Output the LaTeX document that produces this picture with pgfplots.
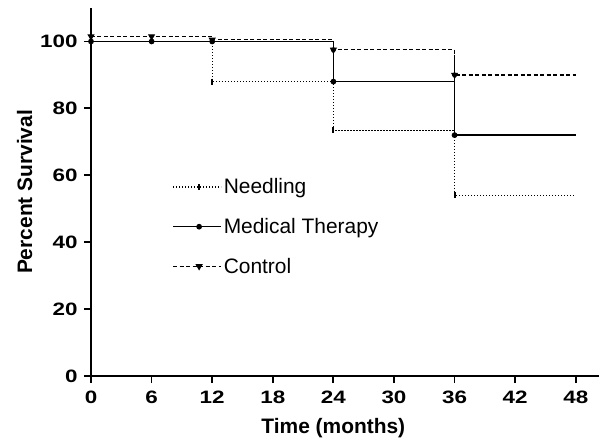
\documentclass[border=0pt]{standalone}
\usepackage{pgfplots}
\pgfplotsset{compat=1.18}
\usepackage{fontspec}
\setmainfont{Liberation Sans}
\newfontfamily\tickfont[FakeStretch=1.25]{Liberation Sans}
\begin{document}
\begin{tikzpicture}[x=1bp,y=1bp]
\begin{axis}[
  at={(0,0)}, anchor=south west,
  scale only axis, width=508bp, height=368bp,
  xmin=0, xmax=50.3, ymin=0, ymax=110,
  axis x line*=bottom, axis y line*=left,
  axis line style={line width=2.8bp, -},
  xtick={0,6,...,48}, ytick={0,20,...,100},
  tick align=outside, major tick length=7bp,
  tick style={line width=1.8bp, black},
  /pgf/number format/assume math mode=true,
  ticklabel style={font=\tickfont\bfseries\fontsize{18}{18}\selectfont},
  xticklabel style={yshift=-4bp},
  yticklabel style={xshift=-3bp},
  xlabel={Time (months)}, ylabel={Percent Survival},
  label style={font=\bfseries\fontsize{21}{21}\selectfont},
  xlabel style={at={(ticklabel cs:0.477)}, anchor=north, yshift=-8bp},
  ylabel style={yshift=1bp},
  clip=false,
  legend style={draw=none, fill=none, at={(rel axis cs:0.16,0.542)}, anchor=north west,
    font=\fontsize{21}{24}\selectfont, row sep=19bp, inner sep=0pt},
  legend cell align=left,
  legend image code/.code={%
    \draw[#1, mark=none] (0bp,0bp) -- (48bp,0bp);
    \draw[#1, mark indices={1}] plot coordinates {(26bp,0bp)};
  },
]
% Needling
\addplot[black, line width=1.2bp, dash pattern=on 1.2bp off 1.8bp, const plot,
  mark=|, mark size=3bp, mark options={solid, line width=2bp}, mark indices={2,3,4}]
  coordinates {(0,100) (12,88) (24,73.5) (36,54) (48,54)};
\addlegendentry{Needling}
% Medical therapy
\addplot[black, line width=1.3bp, const plot, mark=*, mark size=2.2bp, mark indices={1,2,3,4,5}]
  coordinates {(0,100) (6,100) (12,100) (24,88) (36,72) (48,72)};
\addlegendentry{Medical Therapy}
% Control
\addplot[black, line width=1.2bp, dash pattern=on 4bp off 2.5bp, const plot,
  mark=triangle*, mark size=3bp, mark options={rotate=180, solid}, mark indices={1,2,3,4,5}]
  coordinates {(0,101.5) (6,101.5) (12,100.5) (24,97.5) (36,90) (48,90)};
\addlegendentry{Control}
% error bars
\addplot[black, line width=1bp, only marks, mark=none, forget plot,
  error bars/.cd, y dir=both, y explicit, error mark=-, error mark options={line width=1bp, mark size=3.5bp}]
  coordinates {(24,97.5) -= (0,2.5) (36,90) +- (0,5)};
\end{axis}
\pgfresetboundingbox
\path (-91bp,-66bp) rectangle (508bp,376bp);
\end{tikzpicture}
\end{document}
